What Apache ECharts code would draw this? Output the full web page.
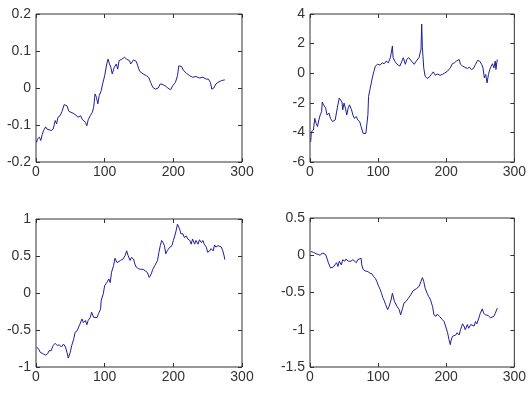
<!DOCTYPE html>
<html>
<head>
<meta charset="utf-8">
<script src="https://cdn.jsdelivr.net/npm/echarts@6/dist/echarts.min.js"></script>
<style>
  html, body { margin: 0; padding: 0; background: #fff; }
  #chart { width: 529px; height: 403px; }
</style>
</head>
<body>
<div id="chart"></div>
<script>
// sample index, value pairs
const topLeft = [
  [1, -0.147], [2, -0.138], [5, -0.133], [7, -0.142], [9, -0.126], [11, -0.115], [14, -0.105],
  [16, -0.111], [18, -0.108], [22, -0.115], [25, -0.111], [28, -0.088], [30, -0.097], [32, -0.079],
  [35, -0.075], [38, -0.063], [41, -0.045], [45, -0.048], [48, -0.063], [51, -0.066], [54, -0.068],
  [58, -0.073], [61, -0.079], [65, -0.075], [67, -0.084], [69, -0.081], [72, -0.093], [74, -0.102],
  [76, -0.086], [79, -0.075], [82, -0.066], [84, -0.052], [86, -0.016], [88, -0.025], [90, -0.043],
  [92, -0.021], [95, -0.007], [97, 0.011], [100, 0.033], [102, 0.033], [103, 0.065], [105, 0.078],
  [107, 0.065], [109, 0.056], [111, 0.038], [114, 0.056], [117, 0.065], [119, 0.051], [121, 0.074],
  [125, 0.078], [129, 0.083], [132, 0.078], [136, 0.074], [138, 0.065], [142, 0.076], [146, 0.072],
  [148, 0.067], [151, 0.045], [156, 0.038], [161, 0.033], [164, 0.029], [167, 0.015], [170, 0.002],
  [174, -0.003], [178, 0], [181, 0.011], [185, 0.009], [188, 0.006], [192, 0], [196, -0.005],
  [199, 0.006], [203, 0.015], [206, 0.033], [208, 0.06], [212, 0.058], [215, 0.047], [219, 0.04],
  [224, 0.033], [228, 0.029], [233, 0.031], [238, 0.027], [243, 0.029], [248, 0.024], [251, 0.024],
  [254, 0.015], [256, -0.003], [259, 0], [262, 0.011], [265, 0.015], [267, 0.013], [270, 0.02],
  [272, 0.015], [275, 0.022]
];
const topRight = [
  [1, -4.64], [2, -3.95], [5, -3.84], [7, -3.05], [9, -3.39], [11, -3.6], [13, -3.16], [15, -2.82],
  [17, -2.6], [18, -1.95], [20, -2.14], [23, -2.36], [25, -2.82], [28, -2.7], [30, -3.05], [33, -3.27],
  [35, -3.32], [37, -3.16], [40, -2.36], [43, -1.68], [45, -1.57], [47, -1.95], [48, -2.48], [50, -2.02],
  [52, -2.36], [54, -2.82], [56, -2.36], [58, -2.14], [61, -2.48], [63, -2.82], [65, -3.05], [68, -2.93],
  [70, -3.16], [73, -3.27], [75, -3.61], [78, -4.07], [80, -4.18], [82, -4.07], [85, -2.82], [86, -1.57],
  [88, -1.11], [90, -0.66], [92, -0.2], [94, 0.14], [96, 0.48], [99, 0.6], [103, 0.55], [106, 0.7],
  [109, 0.64], [112, 0.82], [115, 0.7], [118, 1.05], [121, 1.84], [122, 1.05], [125, 0.77], [128, 0.6],
  [132, 0.48], [135, 0.82], [137, 1.05], [140, 0.6], [142, 0.93], [145, 1.05], [149, 0.82], [151, 0.82],
  [153, 0.6], [156, 0.82], [158, 0.7], [160, 1.05], [163, 1.61], [164, 3.32], [165, 1.73], [167, 0.36],
  [169, -0.2], [172, -0.36], [175, -0.27], [178, -0.09], [181, 0.09], [184, -0.14], [187, -0.05],
  [191, -0.14], [194, -0.09], [198, 0.02], [202, 0.14], [206, 0.36], [209, 0.64], [212, 0.7], [215, 0.82],
  [219, 0.93], [221, 0.6], [224, 0.48], [227, 0.41], [231, 0.32], [234, 0.41], [237, 0.25], [240, 0.32],
  [243, 0.6], [246, 0.86], [249, 0.82], [252, 0.6], [254, 0.36], [256, -0.32], [258, -0.09], [260, -0.66],
  [262, -0.09], [264, 0.25], [266, 0.48], [268, 0.64], [270, 0.36], [272, 0.82], [273, 0.25], [275, 0.93]
];
const bottomLeft = [
  [1, -0.73], [4, -0.76], [6, -0.8], [8, -0.78], [10, -0.82], [12, -0.8], [14, -0.84], [17, -0.82],
  [19, -0.78], [22, -0.78], [25, -0.71], [28, -0.68], [31, -0.71], [34, -0.7], [37, -0.73], [40, -0.69],
  [43, -0.73], [45, -0.8], [47, -0.88], [50, -0.8], [52, -0.71], [55, -0.62], [57, -0.53], [60, -0.51],
  [62, -0.46], [64, -0.42], [67, -0.35], [69, -0.4], [72, -0.37], [74, -0.43], [76, -0.37], [79, -0.33],
  [81, -0.26], [84, -0.33], [86, -0.35], [89, -0.33], [91, -0.28], [94, -0.22], [95, -0.1], [98, -0.01],
  [100, 0.1], [103, 0.14], [106, 0.19], [108, 0.14], [110, 0.28], [113, 0.37], [115, 0.47], [118, 0.41],
  [120, 0.39], [123, 0.44], [125, 0.42], [127, 0.46], [130, 0.51], [132, 0.57], [134, 0.51], [137, 0.44],
  [139, 0.48], [142, 0.46], [144, 0.39], [146, 0.35], [149, 0.33], [152, 0.32], [156, 0.32], [159, 0.3],
  [162, 0.28], [165, 0.21], [168, 0.26], [170, 0.32], [173, 0.37], [175, 0.39], [177, 0.44], [179, 0.55],
  [181, 0.64], [183, 0.71], [185, 0.68], [187, 0.64], [189, 0.53], [191, 0.57], [193, 0.55], [195, 0.62],
  [198, 0.64], [200, 0.71], [202, 0.77], [204, 0.84], [206, 0.93], [208, 0.89], [210, 0.84], [211, 0.8],
  [214, 0.8], [216, 0.75], [219, 0.77], [221, 0.73], [224, 0.71], [226, 0.66], [228, 0.73], [231, 0.66],
  [233, 0.71], [236, 0.66], [238, 0.72], [241, 0.68], [243, 0.71], [245, 0.66], [248, 0.62], [250, 0.55],
  [253, 0.57], [255, 0.6], [258, 0.57], [260, 0.65], [262, 0.62], [265, 0.64], [267, 0.66], [270, 0.62],
  [272, 0.57], [274, 0.5], [275, 0.45]
];
const bottomRight = [
  [1, 0.05], [5, 0.04], [9, 0.02], [12, 0.01], [15, 0], [18, 0.03], [20, 0.05], [23, 0.01], [25, 0],
  [27, -0.1], [30, -0.17], [32, -0.19], [34, -0.16], [36, -0.17], [39, -0.1], [41, -0.15], [43, -0.08],
  [46, -0.13], [48, -0.06], [51, -0.08], [53, -0.05], [56, -0.08], [58, -0.06], [60, -0.08], [63, -0.06],
  [65, -0.08], [68, -0.1], [70, -0.06], [72, -0.05], [75, -0.04], [76, -0.13], [78, -0.19], [81, -0.21],
  [85, -0.22], [88, -0.24], [91, -0.25], [93, -0.28], [96, -0.31], [98, -0.35], [101, -0.42], [103, -0.46],
  [105, -0.51], [107, -0.57], [109, -0.61], [111, -0.66], [114, -0.73], [116, -0.69], [119, -0.6],
  [121, -0.51], [124, -0.62], [126, -0.6], [128, -0.69], [131, -0.73], [133, -0.8], [136, -0.71],
  [138, -0.64], [141, -0.62], [143, -0.6], [145, -0.57], [148, -0.53], [151, -0.48], [153, -0.48],
  [156, -0.45], [158, -0.44], [160, -0.42], [163, -0.35], [165, -0.3], [167, -0.35], [169, -0.44],
  [172, -0.51], [174, -0.55], [176, -0.57], [177, -0.6], [180, -0.69], [182, -0.8], [185, -0.82],
  [187, -0.79], [190, -0.82], [192, -0.84], [194, -0.86], [197, -0.89], [199, -0.95], [202, -1.04],
  [204, -1.13], [206, -1.2], [207, -1.15], [209, -1.09], [211, -1.11], [214, -1.07], [216, -1.04],
  [219, -1.07], [221, -1.0], [224, -0.92], [226, -0.95], [228, -1.0], [231, -0.93], [233, -0.98],
  [236, -0.93], [238, -0.92], [241, -0.95], [243, -0.89], [245, -0.92], [248, -0.84], [250, -0.78],
  [253, -0.72], [255, -0.78], [258, -0.8], [260, -0.78], [262, -0.81], [265, -0.84], [267, -0.82],
  [270, -0.82], [272, -0.78], [275, -0.71]
];

const xTicks = [0, 100, 200, 300];
const yRanges = [
  { min: -0.2, max: 0.2, interval: 0.1 },
  { min: -6, max: 4, interval: 2 },
  { min: -1, max: 1, interval: 0.5 },
  { min: -1.5, max: 0.5, interval: 0.5 }
];
const panels = [topLeft, topRight, bottomLeft, bottomRight];

const boxes = [
  { left: 36, top: 14, width: 206, height: 148 },
  { left: 310, top: 14, width: 206, height: 148 },
  { left: 36, top: 219, width: 206, height: 148 },
  { left: 310, top: 218, width: 206, height: 149 }
];

const lineCol = '#333';
const textStyle = { color: '#333', fontSize: 14, fontFamily: 'Liberation Sans, Arial, sans-serif' };

const grid = [], xAxis = [], yAxis = [], series = [];
boxes.forEach((b, i) => {
  grid.push({ ...b, show: true, borderColor: lineCol, borderWidth: 1, backgroundColor: '#fff' });
  const xBase = {
    gridIndex: i, type: 'value', min: xTicks[0], max: xTicks[xTicks.length - 1], interval: 100,
    axisLine: { show: false, onZero: false }, splitLine: { show: false },
    axisTick: { inside: true, length: 4, lineStyle: { color: lineCol } }
  };
  xAxis.push({ ...xBase, position: 'bottom',
    axisLabel: { ...textStyle, margin: 3, showMinLabel: true, showMaxLabel: true } });
  xAxis.push({ ...xBase, position: 'top', axisLabel: { show: false } });
  const yBase = {
    gridIndex: i, type: 'value', ...yRanges[i],
    axisLine: { show: false, onZero: false }, splitLine: { show: false },
    axisTick: { inside: true, length: 4, lineStyle: { color: lineCol } }
  };
  yAxis.push({ ...yBase, position: 'left',
    axisLabel: { ...textStyle, margin: 5, showMinLabel: true, showMaxLabel: true } });
  yAxis.push({ ...yBase, position: 'right', axisLabel: { show: false } });
  series.push({
    type: 'line', xAxisIndex: i * 2, yAxisIndex: i * 2, data: panels[i],
    showSymbol: false, symbol: 'none', animation: false,
    lineStyle: { color: '#1f1f9a', width: 1 }
  });
});

const chart = echarts.init(document.getElementById('chart'), null, { renderer: 'canvas' });
chart.setOption({ animation: false, grid, xAxis, yAxis, series });
</script>
</body>
</html>
